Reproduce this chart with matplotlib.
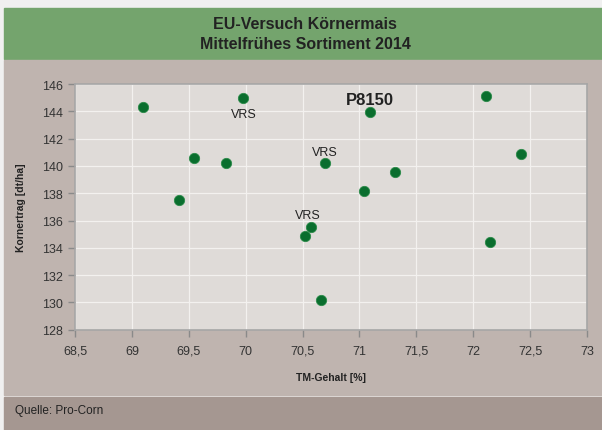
import matplotlib.pyplot as plt
from matplotlib.patches import Rectangle

# TM-Gehalt [%] vs Kornertrag [dt/ha]
tm_gehalt = [69.10, 69.98, 69.55, 69.83, 69.41, 71.09, 72.11, 72.42, 70.70,
             71.31, 71.04, 70.57, 70.52, 72.15, 70.66]
kornertrag = [144.3, 145.0, 140.55, 140.23, 137.47, 143.97, 145.1, 140.86,
              140.18, 139.52, 138.13, 135.56, 134.83, 134.43, 130.2]

# (index of point, text, offset in points, bold)
labels = [(1, 'VRS', (0, -12), False),
          (8, 'VRS', (0, 8), False),
          (11, 'VRS', (-2, 8), False),
          (5, 'P8150', (0, 9), True)]

x_ticks = [68.5, 69, 69.5, 70, 70.5, 71, 71.5, 72, 72.5, 73]
y_ticks = list(range(128, 147, 2))

title = 'EU-Versuch Körnermais\nMittelfrühes Sortiment 2014'
source = 'Quelle: Pro-Corn'

plt.rcParams['font.family'] = ['Liberation Sans', 'DejaVu Sans']

fig = plt.figure(figsize=(6.02, 4.31), dpi=100)
fig.patch.set_facecolor('#f0f0f0')

W, H = 602, 431


def band(y0, y1, color):
    # y in pixels from the top
    fig.patches.append(Rectangle((4 / W, 1 - y1 / H), 1, (y1 - y0) / H,
                                 transform=fig.transFigure, color=color,
                                 zorder=-5))


band(9, 431, '#f4f2f0')
band(9, 60, '#74a46d')
band(61, 396, '#bfb4af')
band(398, 431, '#a59791')

fig.text(0.507, 1 - 34.5 / H, title, ha='center', va='center', fontsize=11.5,
         fontweight='bold', color='#222222', linespacing=1.45)
fig.text(15 / W, 1 - 411 / H, source, ha='left', va='center', fontsize=8.5,
         color='#222222')

ax = fig.add_axes([75 / W, 1 - 330.7 / H, 512 / W, 245.7 / H])
ax.set_zorder(2)
ax.set_facecolor('#dfdbd8')
ax.scatter(tm_gehalt, kornertrag, s=55, color='#0a6e2e',
           edgecolors='#2a8a48', linewidths=0.6, zorder=3)

for i, txt, off, bold in labels:
    ax.annotate(txt, (tm_gehalt[i], kornertrag[i]), xytext=off,
                textcoords='offset points', ha='center', va='center',
                fontsize=12 if bold else 9,
                fontweight='bold' if bold else 'normal', color='#222222')

ax.set_xlim(68.5, 73)
ax.set_ylim(128, 146)
ax.set_xticks(x_ticks)
ax.set_xticklabels([f'{t:g}'.replace('.', ',') for t in x_ticks])
ax.set_yticks(y_ticks)
ax.grid(True, color='#f3f1ef', linewidth=0.9)
ax.set_axisbelow(True)
for s in ax.spines.values():
    s.set_color('#a6a6a6')
    s.set_linewidth(1.2)
ax.tick_params(colors='#8a8a8a', labelcolor='#333333', labelsize=9,
               length=5, width=1)
ax.tick_params(axis='x', pad=6)

ax.set_xlabel('TM-Gehalt [%]', fontsize=7.5, fontweight='bold',
              color='#222222', labelpad=11)
ax.set_ylabel('Kornertrag [dt/ha]', fontsize=7.5, fontweight='bold',
              color='#222222', labelpad=12)

fig.savefig('out.png', dpi=100, facecolor=fig.get_facecolor())
